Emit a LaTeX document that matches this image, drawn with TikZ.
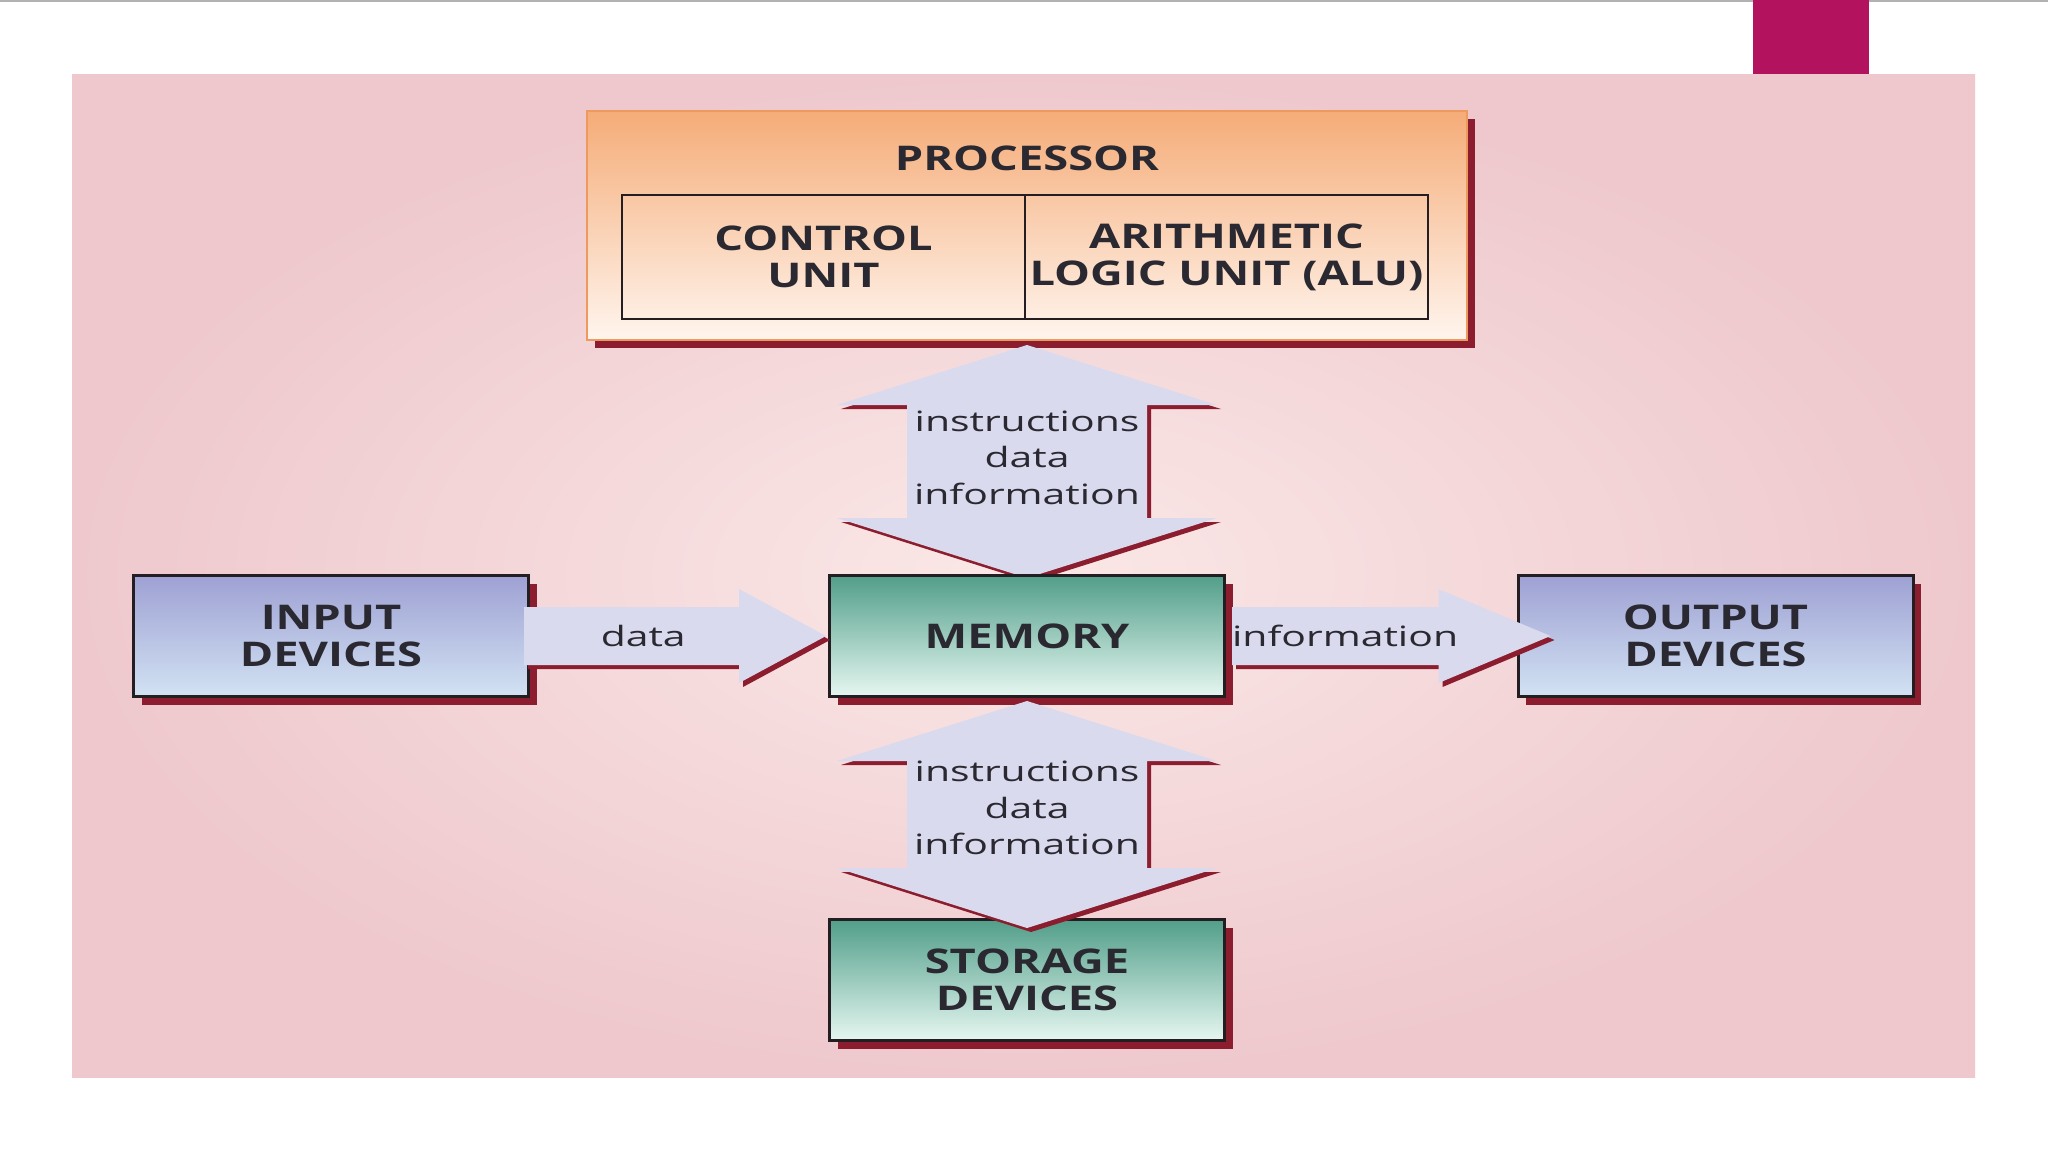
\documentclass[tikz,border=0pt]{standalone}
\usepackage{fontspec}
\setmainfont{Open Sans}[FakeStretch=1.33]
\newfontfamily\regfont{Open Sans}[FakeStretch=1.46]
\usetikzlibrary{calc,shadows}
\definecolor{bgin}{HTML}{FBE8E7}
\definecolor{bgout}{HTML}{EEC8CD}
\definecolor{magenta}{HTML}{B3125F}
\definecolor{shadowred}{HTML}{8C1D2E}
\definecolor{boxline}{HTML}{241E22}
\definecolor{txt}{HTML}{2A2830}
\definecolor{arrfill}{HTML}{D9DAEE}
\definecolor{proctop}{HTML}{F5AC78}
\definecolor{procbot}{HTML}{FFF5EE}
\definecolor{procline}{HTML}{EE9A5E}
\definecolor{iotop}{HTML}{9EA1D3}
\definecolor{iobot}{HTML}{D2E2F3}
\definecolor{memtop}{HTML}{519E89}
\definecolor{membot}{HTML}{E6F7F1}
\newcommand\boldlab{\fontsize{34}{37}\selectfont\bfseries}
\newcommand\reglab{\regfont\fontsize{28}{36.5}\selectfont}
% vertical double block arrow: #1 top tip, #2 bottom tip
\newcommand\vdarrowpath[2]{(#1) -- ($(#1)+(190,60)$) -- ($(#1)+(120,60)$) -- ($(#2)+(120,-60)$) -- ($(#2)+(190,-60)$) -- (#2) -- ($(#2)+(-190,-60)$) -- ($(#2)+(-120,-60)$) -- ($(#1)+(-120,60)$) -- ($(#1)+(-190,60)$) -- cycle}
% horizontal single block arrow: #1 tail, #2 tip, #3 head length
\newcommand\harrowpath[3]{($(#1)+(0,-29)$) -- ($(#2)+(-#3,-29)$) -- ($(#2)+(-#3,-47)$) -- (#2) -- ($(#2)+(-#3,47)$) -- ($(#2)+(-#3,29)$) -- ($(#1)+(0,29)$) -- cycle}
\begin{document}
\begin{tikzpicture}[x=1pt,y=-1pt,
  shadowed/.style={drop shadow={shadow xshift=8pt,shadow yshift=-8pt,fill=shadowred,opacity=1}},
  iobox/.style={draw=boxline,line width=3pt,minimum width=395pt,minimum height=121pt,inner sep=0pt,align=center,font=\boldlab,text=txt,top color=iotop,bottom color=iobot,shadowed},
  membox/.style={iobox,top color=memtop,bottom color=membot},
  unitbox/.style={draw=boxline,line width=2.2pt,minimum width=403pt,minimum height=124pt,inner sep=0pt,align=center,font=\boldlab,text=txt},
  arrlab/.style={font=\reglab,text=txt,align=center,inner sep=0pt},
  arrshadow/.style={fill=shadowred,transform canvas={xshift=4pt,yshift=-4pt}},
  arrbody/.style={fill=arrfill}]
\useasboundingbox (0,0) rectangle (2048,1152);
\fill[white] (0,0) rectangle (2048,1152);
\draw[black!30,line width=2pt] (0,1) -- (2048,1);
\shade[inner color=bgin,outer color=bgout] (72,74) rectangle (1975,1077);
\fill[magenta] (1753,0) rectangle (1869,74);

% nodes
\node[draw=procline,line width=2pt,minimum width=880pt,minimum height=229pt,inner sep=0pt,top color=proctop,bottom color=procbot,shadowed] (proc) at (1027,225.5) {};
\node[font=\boldlab,text=txt,inner sep=0pt] (proclab) at (1027,158) {PROCESSOR};
\node[unitbox] (cu) at (823.5,257) {CONTROL\\UNIT};
\node[unitbox] (alu) at (1226.5,257) {ARITHMETIC\\LOGIC UNIT (ALU)};

\coordinate (t1) at ($(proc.south)+(0,4)$);
\coordinate (m0) at (1027,578);
\fill[arrshadow] \vdarrowpath{t1}{m0};
\fill[arrbody] \vdarrowpath{t1}{m0};

\node[membox] (mem) at (1027,636) {MEMORY};
\node[iobox] (inp) at (331,636) {INPUT\\DEVICES};
\node[iobox] (out) at (1715.5,636) {OUTPUT\\DEVICES};
\node[membox] (stor) at (1027,980) {STORAGE\\DEVICES};

% horizontal arrows
\coordinate (d0) at ($(inp.east)+(-6,0)$);
\coordinate (d1) at ($(mem.west)+(-2,0)$);
\fill[arrshadow] \harrowpath{d0}{d1}{87};
\fill[arrbody] \harrowpath{d0}{d1}{87};
\coordinate (i0) at ($(mem.east)+(6,0)$);
\coordinate (i1) at ($(out.west)+(34,0)$);
\fill[arrshadow] \harrowpath{i0}{i1}{112};
\fill[arrbody] \harrowpath{i0}{i1}{112};
% vertical arrow 2
\coordinate (t2) at ($(mem.south)+(0,3)$);
\coordinate (s0) at ($(stor.north)+(0,10)$);
\fill[arrshadow] \vdarrowpath{t2}{s0};
\fill[arrbody] \vdarrowpath{t2}{s0};

% labels
\node[arrlab] (l1) at ($(proc.south)!.5!(mem.north)$) {instructions\\data\\information};
\node[arrlab] (l2) at ($(mem.south)!.5!(stor.north)$) {instructions\\data\\information};
\node[arrlab] (l3) at ($(inp.east)!.38!(mem.west)$) {data};
\node[arrlab] (l4) at ($(mem.east)!.41!(out.west)$) {information};
\end{tikzpicture}
\end{document}
